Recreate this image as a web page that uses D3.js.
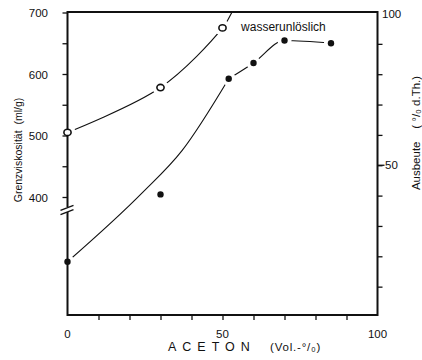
<!DOCTYPE html>
<html><head><meta charset="utf-8">
<script src="https://cdn.jsdelivr.net/npm/d3@7/dist/d3.min.js"></script>
<style>
html,body{margin:0;padding:0;background:#fff;}
svg{display:block;}
text{font-family:"Liberation Sans",Arial,sans-serif;fill:#111;}
</style></head>
<body>
<script>
// ---- data ----
const viscX = [0, 30, 50];               // Aceton (Vol.-%)
const viscY = [505, 578, 675];           // Grenzviskosität (ml/g)
const viscFitX = [0, 30, 50, 53];
const viscFitY = [505, 578, 675, 700];

const yieldX = [0, 30, 52, 60, 70, 85];  // Aceton (Vol.-%)
const yieldY = [18.2, 40.4, 78.5, 83.7, 91.1, 90.2]; // Ausbeute (% d.Th.)
// fitted curve, drawn in two pieces (knee at 52 %)
const yieldFitLowX = [0, 24, 37, 52];
const yieldFitLowY = [18.2, 40.8, 54.9, 78.5];
const yieldFitHighX = [52, 60, 70, 85];
const yieldFitHighY = [78.5, 83.7, 91.1, 90.2];

const xTicks = [0,10,20,30,40,50,60,70,80,90,100];
const xTickLabels = [0,50,100];
const leftTicks = [400,450,500,550,600,650,700];
const leftTickLabels = [400,500,600,700];
const rightTicks = [10,20,30,40,50,60,70,80,90];
const rightTickLabels = [50,100];

const W = 422, H = 360;
const svg = d3.select("body").append("svg").attr("width", W).attr("height", H);

const x = d3.scaleLinear().domain([0,100]).range([67.5,377.5]);
const yL = d3.scaleLinear().domain([400,700]).range([197,12.5]);
const yR = d3.scaleLinear().domain([0,100]).range([317,13.5]);
const frameTop = 12, frameBottom = 315;

// curves
const viscLine = d3.line().x(d=>x(d[0])).y(d=>yL(d[1])).curve(d3.curveCatmullRom.alpha(0.5));
const yieldLine = d3.line().x(d=>x(d[0])).y(d=>yR(d[1])).curve(d3.curveMonotoneX);

svg.append("path").datum(viscFitX.map((v,i)=>[v,viscFitY[i]]))
  .attr("d", viscLine).attr("fill","none").attr("stroke","#111").attr("stroke-width",1.1);
svg.append("path").datum(yieldFitLowX.map((v,i)=>[v,yieldFitLowY[i]]))
  .attr("d", yieldLine).attr("fill","none").attr("stroke","#111").attr("stroke-width",1.1);
svg.append("path").datum(yieldFitHighX.map((v,i)=>[v,yieldFitHighY[i]]))
  .attr("d", yieldLine).attr("fill","none").attr("stroke","#111").attr("stroke-width",1.1);

// halos (gaps in curves around markers)
const halo = svg.append("g");
viscX.forEach((v,i)=>halo.append("circle").attr("cx",x(v)).attr("cy",yL(viscY[i])).attr("r",8).attr("fill","#fff"));
yieldX.forEach((v,i)=>halo.append("circle").attr("cx",x(v)).attr("cy",yR(yieldY[i])).attr("r",7).attr("fill","#fff"));

// frame
svg.append("rect").attr("x",x(0)).attr("y",frameTop).attr("width",x(100)-x(0)).attr("height",frameBottom-frameTop)
  .attr("fill","none").attr("stroke","#111").attr("stroke-width",2);

// axes
const axB = d3.axisBottom(x).tickValues(xTicks.filter(t=>t>0&&t<100)).tickSize(5).tickFormat("");
const gB = svg.append("g").attr("transform",`translate(0,${frameBottom})`).call(axB);
const axL = d3.axisLeft(yL).tickValues(leftTicks).tickSize(5).tickFormat("");
const gL = svg.append("g").attr("transform",`translate(${x(0)},0)`).call(axL);
const axR = d3.axisRight(yR).tickValues(rightTicks).tickSize(5).tickFormat("");
const gR = svg.append("g").attr("transform",`translate(${x(100)},0)`).call(axR);
[gB,gL,gR].forEach(g=>{g.select(".domain").remove(); g.selectAll("line").attr("stroke","#111").attr("stroke-width",1.3);});

// tick labels
svg.append("g").selectAll("text").data(xTickLabels).join("text")
  .attr("x",d=>x(d)).attr("y",338).attr("text-anchor","middle").attr("font-size",11.5).text(d=>d);
svg.append("g").selectAll("text").data(leftTickLabels).join("text")
  .attr("x",48).attr("y",d=>yL(d)+4.5).attr("text-anchor","end").attr("font-size",11.5).text(d=>d);
svg.append("g").selectAll("text").data(rightTickLabels).join("text")
  .attr("x",d=>d===50?385:382).attr("y",d=>yR(d)+4).attr("text-anchor","start").attr("font-size",11.5).text(d=>d);
// longer tick at 50 on right axis
svg.append("line").attr("x1",x(100)).attr("x2",x(100)+7).attr("y1",yR(50)).attr("y2",yR(50)).attr("stroke","#111").attr("stroke-width",1.3);

// axis break on left axis
const by = 210;
svg.append("rect").attr("x",x(0)-2).attr("y",by-3).attr("width",4).attr("height",5).attr("fill","#fff");
[-2.2,2.2].forEach(o=>svg.append("line").attr("x1",x(0)-7).attr("y1",by+o+2.5).attr("x2",x(0)+6).attr("y2",by+o-2.5)
  .attr("stroke","#111").attr("stroke-width",1.3));

// markers
svg.append("g").selectAll("ellipse").data(viscX.map((v,i)=>[v,viscY[i]])).join("ellipse")
  .attr("cx",d=>x(d[0])).attr("cy",d=>yL(d[1])).attr("rx",3.6).attr("ry",3.2)
  .attr("fill","#fff").attr("stroke","#111").attr("stroke-width",1.6);
svg.append("g").selectAll("circle").data(yieldX.map((v,i)=>[v,yieldY[i]])).join("circle")
  .attr("cx",d=>x(d[0])).attr("cy",d=>yR(d[1])).attr("r",3.2)
  .attr("fill","#111");

// annotation
svg.append("text").attr("x",x(56)).attr("y",31).attr("font-size",12).text("wasserunlöslich");

// axis titles
svg.append("text").attr("transform",`translate(22,150) rotate(-90)`).attr("text-anchor","middle")
  .attr("font-size",10.5).attr("xml:space","preserve").text("Grenzviskosität  (ml/g)");
svg.append("text").attr("transform",`translate(420,133) rotate(-90)`).attr("text-anchor","middle")
  .attr("font-size",11.5).attr("xml:space","preserve").text("Ausbeute    ( °/₀ d.Th.)");
svg.append("text").attr("x",168).attr("y",351).attr("font-size",12.5).attr("letter-spacing","6px").text("ACETON");
svg.append("text").attr("x",270).attr("y",351).attr("font-size",11.5).attr("letter-spacing","0.8px").text("(Vol.-°/₀)");
</script>
</body></html>
